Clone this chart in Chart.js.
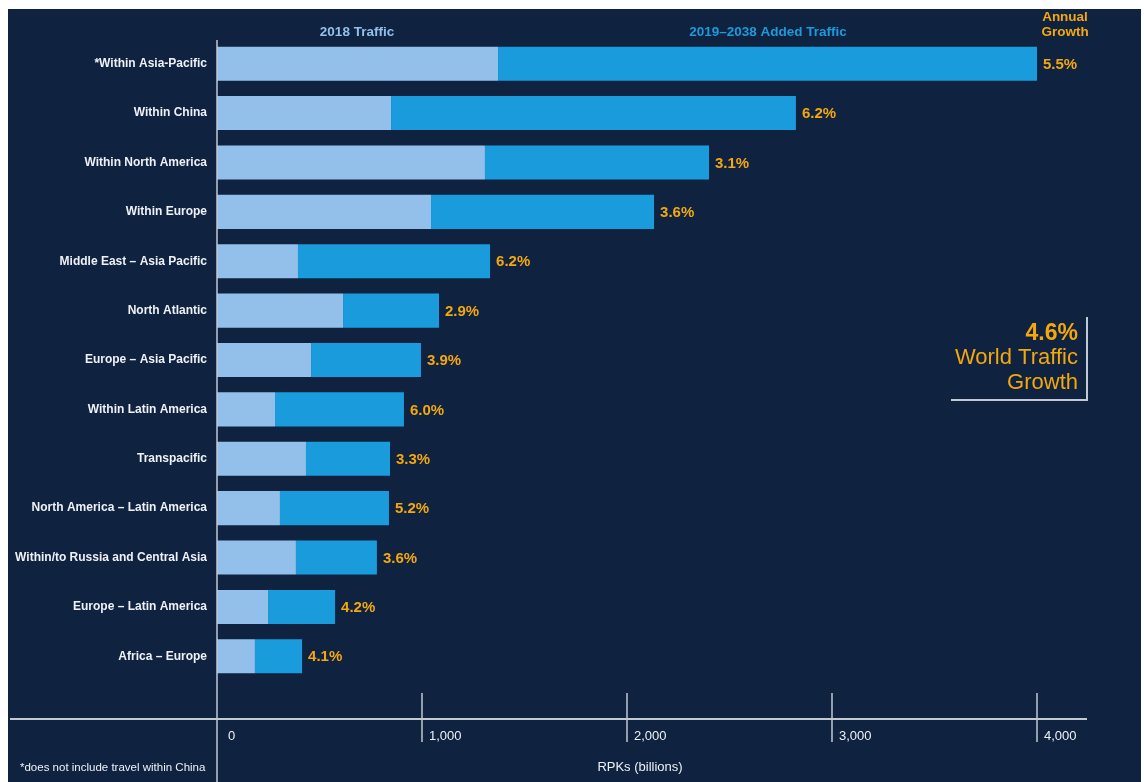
<!DOCTYPE html>
<html>
<head>
<meta charset="utf-8">
<script src="https://cdn.jsdelivr.net/npm/chart.js@4/dist/chart.umd.min.js"></script>
<style>
html,body{margin:0;padding:0;background:#ffffff;}
#wrap{position:absolute;left:0;top:0;width:1144px;height:782px;}
</style>
</head>
<body>
<div id="wrap"><canvas id="c" width="1144" height="782"></canvas></div>
<script>
const categories = [
  "*Within Asia-Pacific",
  "Within China",
  "Within North America",
  "Within Europe",
  "Middle East \u2013 Asia Pacific",
  "North Atlantic",
  "Europe \u2013 Asia Pacific",
  "Within Latin America",
  "Transpacific",
  "North America \u2013 Latin America",
  "Within/to Russia and Central Asia",
  "Europe \u2013 Latin America",
  "Africa \u2013 Europe"
];
const traffic2018 = [1371, 849, 1307, 1044, 395, 615, 459, 283, 434, 307, 385, 249, 185];
const addedTraffic = [2629, 1975, 1093, 1088, 937, 468, 536, 629, 410, 532, 395, 327, 230];
const annualGrowth = ["5.5%", "6.2%", "3.1%", "3.6%", "6.2%", "2.9%", "3.9%", "6.0%", "3.3%", "5.2%", "3.6%", "4.2%", "4.1%"];
const xTickValues = [0, 1000, 2000, 3000, 4000];
const seriesNames = ["2018 Traffic", "2019\u20132038 Added Traffic"];
const worldGrowth = ["4.6%", "World Traffic", "Growth"];

const NAVY = "#0f2240";
const LIGHT = "#93c0ea";
const DARK = "#1a9bdb";
const ORANGE = "#f4a80c";
const LINE = "#c3c9d3";
const TEXT = "#eef1f5";
const FONT = "'Liberation Sans', Arial, sans-serif";

const decor = {
  id: "decor",
  beforeDraw(chart) {
    const ctx = chart.ctx;
    ctx.save();
    ctx.fillStyle = "#ffffff";
    ctx.fillRect(0, 0, chart.width, chart.height);
    ctx.fillStyle = NAVY;
    ctx.fillRect(8, 9, 1133, 773);
    ctx.restore();
  },
  afterDraw(chart) {
    const ctx = chart.ctx;
    const xs = chart.scales.x;
    const x0 = xs.getPixelForValue(0);
    ctx.save();
    // y axis line
    ctx.strokeStyle = LINE;
    ctx.lineWidth = 1.5;
    ctx.beginPath();
    ctx.moveTo(x0, 40);
    ctx.lineTo(x0, 782);
    ctx.stroke();
    // x axis line
    ctx.lineWidth = 2;
    ctx.beginPath();
    ctx.moveTo(10, 719);
    ctx.lineTo(1087, 719);
    ctx.stroke();
    // ticks
    ctx.font = "13px " + FONT;
    ctx.fillStyle = TEXT;
    ctx.textAlign = "left";
    ctx.textBaseline = "middle";
    xs.ticks.forEach(t => {
      const px = xs.getPixelForValue(t.value);
      if (t.value > 0) {
        ctx.lineWidth = 1.5;
        ctx.beginPath();
        ctx.moveTo(px, 693);
        ctx.lineTo(px, 742);
        ctx.stroke();
      }
      ctx.fillText(t.value.toLocaleString("en-US"), px + (t.value === 0 ? 11 : 7), 736);
    });
    // axis title + footnote
    ctx.textAlign = "center";
    ctx.fillText("RPKs (billions)", 640, 767);
    ctx.textAlign = "left";
    ctx.font = "11.5px " + FONT;
    ctx.fillText("*does not include travel within China", 20, 768);
    // header
    ctx.font = "bold 13.5px " + FONT;
    ctx.textAlign = "center";
    ctx.fillStyle = LIGHT;
    ctx.fillText(seriesNames[0], 357, 32);
    ctx.fillStyle = DARK;
    ctx.fillText(seriesNames[1], 768, 32);
    ctx.fillStyle = ORANGE;
    ctx.fillText("Annual", 1065, 17);
    ctx.fillText("Growth", 1065, 32);
    // growth labels
    const meta = chart.getDatasetMeta(1);
    ctx.font = "bold 15px " + FONT;
    ctx.textAlign = "left";
    meta.data.forEach((bar, i) => {
      ctx.fillText(annualGrowth[i], bar.x + 6, bar.y + 1);
    });
    // world growth box
    ctx.strokeStyle = LINE;
    ctx.lineWidth = 2;
    ctx.beginPath();
    ctx.moveTo(1087, 317);
    ctx.lineTo(1087, 400);
    ctx.lineTo(951, 400);
    ctx.stroke();
    ctx.textAlign = "right";
    ctx.font = "bold 23px " + FONT;
    ctx.fillText(worldGrowth[0], 1078, 334);
    ctx.font = "22px " + FONT;
    ctx.fillText(worldGrowth[1], 1078, 358);
    ctx.fillText(worldGrowth[2], 1078, 383);
    ctx.restore();
  }
};

new Chart(document.getElementById("c"), {
  type: "bar",
  data: {
    labels: categories,
    datasets: [
      { label: seriesNames[0], data: traffic2018, backgroundColor: LIGHT, borderWidth: 0 },
      { label: seriesNames[1], data: addedTraffic, backgroundColor: DARK, borderWidth: 0 }
    ]
  },
  options: {
    indexAxis: "y",
    responsive: false,
    animation: false,
    devicePixelRatio: 1,
    barPercentage: 0.69,
    categoryPercentage: 1,
    layout: { padding: { left: 0, right: 107, top: 39, bottom: 101 } },
    plugins: { legend: { display: false }, tooltip: { enabled: false } },
    scales: {
      x: {
        stacked: true,
        display: false,
        min: 0,
        max: 4000,
        afterBuildTicks: s => { s.ticks = xTickValues.map(v => ({ value: v })); }
      },
      y: {
        stacked: true,
        grid: { display: false, drawTicks: false },
        border: { display: false },
        afterFit: s => { s.width = 217; },
        ticks: {
          padding: 10,
          color: TEXT,
          font: { family: FONT, size: 12, weight: "bold" }
        }
      }
    }
  },
  plugins: [decor]
});
</script>
</body>
</html>
